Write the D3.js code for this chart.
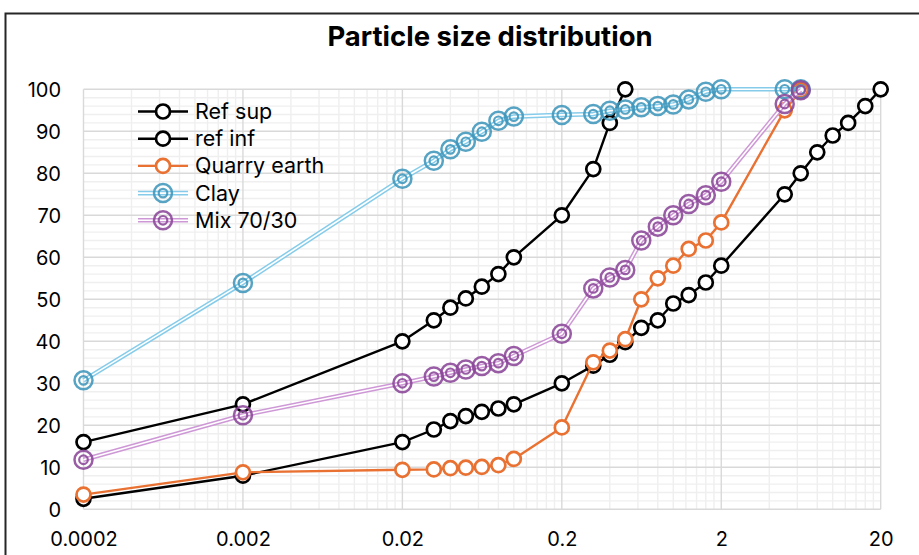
<!DOCTYPE html>
<html>
<head>
<meta charset="utf-8">
<script src="https://cdn.jsdelivr.net/npm/d3@7"></script>
<style>
  html, body { margin: 0; padding: 0; background: #fff; }
  svg { display: block; }
</style>
</head>
<body>
<svg id="chart" width="919" height="555"></svg>
<script>
// ---- Data ----
const refSupSizes = [0.0002, 0.002, 0.02, 0.0315, 0.04, 0.05, 0.063, 0.08, 0.1, 0.2, 0.315, 0.4, 0.5];
const refSupValues = [16, 25, 40, 45, 48, 50.2, 53, 56, 60, 70, 81, 92, 100];

const refInfSizes = [0.0002, 0.002, 0.02, 0.0315, 0.04, 0.05, 0.063, 0.08, 0.1, 0.2, 0.315, 0.4, 0.5, 0.63, 0.8, 1, 1.25, 1.6, 2, 5, 6.3, 8, 10, 12.5, 16, 20];
const refInfValues = [2.5, 8, 16, 19, 21, 22.2, 23.2, 24, 25, 30, 34.2, 36.8, 39.8, 43.2, 45, 49, 51, 54, 58, 75, 80, 85, 89, 92, 96, 100];

const quarrySizes = [0.0002, 0.002, 0.02, 0.0315, 0.04, 0.05, 0.063, 0.08, 0.1, 0.2, 0.315, 0.4, 0.5, 0.63, 0.8, 1, 1.25, 1.6, 2, 5, 6.3];
const quarryValues = [3.5, 8.8, 9.4, 9.5, 9.8, 9.9, 10.1, 10.5, 12, 19.5, 35, 37.8, 40.5, 50, 55, 58, 62, 64, 68.3, 95, 99.8];

const claySizes = [0.0002, 0.002, 0.02, 0.0315, 0.04, 0.05, 0.063, 0.08, 0.1, 0.2, 0.315, 0.4, 0.5, 0.63, 0.8, 1, 1.25, 1.6, 2, 5, 6.3];
const clayValues = [30.7, 53.9, 78.7, 83, 85.7, 87.5, 89.9, 92.5, 93.5, 93.9, 94.1, 94.9, 95.2, 95.7, 96, 96.4, 97.6, 99.4, 100, 100, 100];

const mixSizes = [0.0002, 0.002, 0.02, 0.0315, 0.04, 0.05, 0.063, 0.08, 0.1, 0.2, 0.315, 0.4, 0.5, 0.63, 0.8, 1, 1.25, 1.6, 2, 5, 6.3];
const mixValues = [11.8, 22.4, 30, 31.6, 32.5, 33.3, 34.1, 34.8, 36.5, 41.8, 52.6, 55.2, 57, 64, 67.3, 70, 72.7, 74.8, 78, 96.5, 99.8];

const seriesNames = ["Ref sup", "ref inf", "Quarry earth", "Clay", "Mix 70/30"];
const xTickValues = [0.0002, 0.002, 0.02, 0.2, 2, 20];
const xTickLabels = ["0.0002", "0.002", "0.02", "0.2", "2", "20"];
const yTickValues = [0, 10, 20, 30, 40, 50, 60, 70, 80, 90, 100];
const chartTitle = "Particle size distribution";

// ---- Styles ----
const styles = [
  { kind: "single", line: "#000000", marker: "#000000" },
  { kind: "single", line: "#000000", marker: "#000000" },
  { kind: "single", line: "#E97132", marker: "#E97132" },
  { kind: "double", line: "#86CCEA", marker: "#3F96BB" },
  { kind: "double", line: "#CE98D6", marker: "#8B4798" }
];

const series = [
  { name: seriesNames[0], x: refSupSizes, y: refSupValues },
  { name: seriesNames[1], x: refInfSizes, y: refInfValues },
  { name: seriesNames[2], x: quarrySizes, y: quarryValues },
  { name: seriesNames[3], x: claySizes, y: clayValues },
  { name: seriesNames[4], x: mixSizes, y: mixValues }
].map((s, i) => Object.assign(s, styles[i], {
  pts: s.x.map((v, j) => [v, s.y[j]])
}));

const svg = d3.select("#chart");
const font = "Inter, 'Open Sans', 'Liberation Sans', sans-serif";

// Chart frame
svg.append("rect")
  .attr("x", 5.5).attr("y", 13.5).attr("width", 1000).attr("height", 700)
  .attr("fill", "#fff").attr("stroke", "#262626").attr("stroke-width", 2);

const x = d3.scaleLog().domain([0.0002, 20]).range([83.5, 880.7]);
const y = d3.scaleLinear().domain([0, 100]).range([509.3, 89.3]);

// Minor gridlines
const minorX = [];
for (let d = 0; d < 5; d++) {
  const base = 0.0002 * Math.pow(10, d);
  for (let k = 2; k <= 9; k++) minorX.push(base * k);
}
const minorY = d3.range(0, 101, 2).filter(v => v % 10 !== 0);

const grid = svg.append("g");
grid.selectAll("line.mx").data(minorX).join("line")
  .attr("x1", d => x(d)).attr("x2", d => x(d))
  .attr("y1", y(0)).attr("y2", y(100))
  .attr("stroke", "#efefef").attr("stroke-width", 1.4);
grid.selectAll("line.my").data(minorY).join("line")
  .attr("x1", x(0.0002)).attr("x2", x(20))
  .attr("y1", d => y(d)).attr("y2", d => y(d))
  .attr("stroke", "#efefef").attr("stroke-width", 1.4);
grid.selectAll("line.MX").data(xTickValues).join("line")
  .attr("x1", d => x(d)).attr("x2", d => x(d))
  .attr("y1", y(0)).attr("y2", y(100))
  .attr("stroke", "#d9d9d9").attr("stroke-width", 1.4);
grid.selectAll("line.MY").data(yTickValues).join("line")
  .attr("x1", x(0.0002)).attr("x2", x(20))
  .attr("y1", d => y(d)).attr("y2", d => y(d))
  .attr("stroke", "#d9d9d9").attr("stroke-width", 1.4);

// Axes (labels only, via d3 axes)
const xAxis = d3.axisBottom(x).tickValues(xTickValues)
  .tickFormat((d, i) => xTickLabels[i]).tickSize(0).tickPadding(0);
const gx = svg.append("g").attr("transform", `translate(0, ${y(0) + 37})`).call(xAxis);
gx.select(".domain").remove();
gx.selectAll("text").attr("font-family", font).attr("font-size", 20).attr("fill", "#000").attr("dy", 0);

const yAxis = d3.axisLeft(y).tickValues(yTickValues).tickFormat(d3.format("d")).tickSize(0).tickPadding(0);
const gy = svg.append("g").attr("transform", `translate(61, 0)`).call(yAxis);
gy.select(".domain").remove();
gy.selectAll("text").attr("font-family", font).attr("font-size", 20).attr("fill", "#000").attr("dy", "0.35em");

// Title
svg.append("text").attr("x", 490).attr("y", 46)
  .attr("text-anchor", "middle").attr("font-family", font)
  .attr("font-weight", 700).attr("font-size", 27.5).attr("fill", "#000")
  .text(chartTitle);

const line = d3.line().x(d => x(d[0])).y(d => y(d[1]));

function drawLine(g, s, path) {
  if (s.kind === "single") {
    g.append("path").attr("d", path).attr("fill", "none")
      .attr("stroke", s.line).attr("stroke-width", 2.4).attr("stroke-linejoin", "round");
  } else {
    g.append("path").attr("d", path).attr("fill", "none")
      .attr("stroke", s.line).attr("stroke-width", 4.6).attr("stroke-linejoin", "round");
    g.append("path").attr("d", path).attr("fill", "none")
      .attr("stroke", "#fff").attr("stroke-width", 1.6).attr("stroke-linejoin", "round");
  }
}
function drawMarker(g, s, cx, cy) {
  if (s.kind === "single") {
    g.append("circle").attr("cx", cx).attr("cy", cy).attr("r", 7)
      .attr("fill", "#fff").attr("stroke", s.marker).attr("stroke-width", 2.7);
  } else {
    g.append("circle").attr("cx", cx).attr("cy", cy).attr("r", 9)
      .attr("fill", "none").attr("stroke", s.marker).attr("stroke-width", 2.5).attr("stroke-opacity", 0.88);
    g.append("circle").attr("cx", cx).attr("cy", cy).attr("r", 4.3)
      .attr("fill", "none").attr("stroke", s.marker).attr("stroke-width", 2.2).attr("stroke-opacity", 0.88);
  }
}

// Series
series.forEach(s => {
  const g = svg.append("g");
  drawLine(g, s, line(s.pts));
  s.pts.forEach(p => drawMarker(g, s, x(p[0]), y(p[1])));
});

// Legend
const legend = svg.append("g");
series.forEach((s, i) => {
  const cy = 111.5 + i * 27.2;
  const g = legend.append("g");
  drawLine(g, s, d3.line()([[138, cy], [188, cy]]));
  drawMarker(g, s, 163, cy);
  g.append("text").attr("x", 195).attr("y", cy).attr("dy", "0.35em")
    .attr("font-family", font).attr("font-size", 21.5).attr("fill", "#000")
    .text(s.name);
});
</script>
</body>
</html>
